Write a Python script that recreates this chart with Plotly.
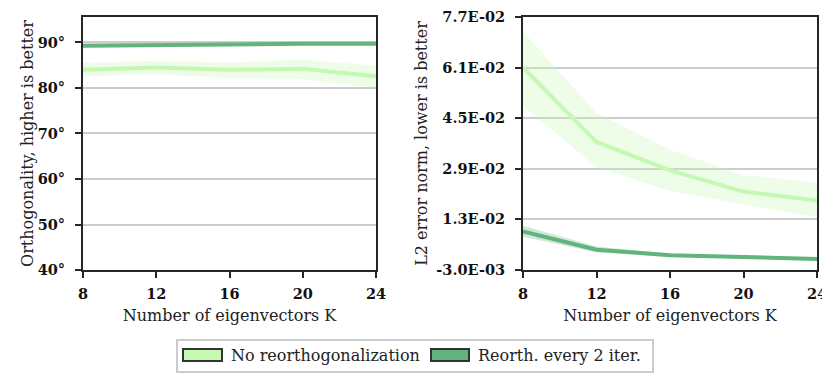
import plotly.graph_objects as go

K = [8, 12, 16, 20, 24]

# left panel: orthogonality (degrees)
ortho_none = [84.0, 84.5, 84.0, 84.2, 82.6]
ortho_none_lo = [82.6, 83.0, 82.2, 82.0, 80.0]
ortho_none_hi = [85.5, 86.0, 85.6, 86.2, 84.9]
ortho_re = [89.3, 89.5, 89.6, 89.7, 89.7]
ortho_re_lo = [88.9, 89.2, 89.4, 89.5, 89.5]
ortho_re_hi = [89.8, 89.8, 89.8, 89.9, 89.9]

# right panel: L2 error norm
err_none = [0.061, 0.0375, 0.0285, 0.0218, 0.019]
err_none_lo = [0.049, 0.0295, 0.022, 0.0177, 0.0136]
err_none_hi = [0.0723, 0.0467, 0.035, 0.027, 0.0246]
err_re = [0.0092, 0.0034, 0.0017, 0.0010, 0.0005]
err_re_lo = [0.0075, 0.0026, 0.0012, 0.0007, 0.0003]
err_re_hi = [0.0110, 0.0044, 0.0022, 0.0013, 0.0008]

ortho_ticks = [40, 50, 60, 70, 80, 90]
err_ticks = [-0.003, 0.013, 0.029, 0.045, 0.061, 0.077]

series_names = ["No reorthogonalization", "Reorth. every 2 iter."]

LIGHT = "#c5f9b2"
DARK = "#63b37f"
LIGHT_FILL = "rgba(197,249,178,0.3)"
DARK_FILL = "rgba(99,179,127,0.3)"
SERIF = "DejaVu Serif"

# page body has an 8px margin; paper coords below account for it
W, H, OFF = 830, 377, 8


def px(x):
    return (x - OFF) / W


def py(y):
    return 1 - (y - OFF) / H


fig = go.Figure()


def add_series(xa, ya, y, lo, hi, color, fill):
    fig.add_trace(go.Scatter(x=K, y=lo, mode="lines", line=dict(width=0, color=fill),
                             xaxis=xa, yaxis=ya, showlegend=False, hoverinfo="skip"))
    fig.add_trace(go.Scatter(x=K, y=hi, mode="lines", line=dict(width=0, color=fill),
                             fill="tonexty", fillcolor=fill,
                             xaxis=xa, yaxis=ya, showlegend=False, hoverinfo="skip"))
    fig.add_trace(go.Scatter(x=K, y=y, mode="lines", line=dict(width=4, color=color),
                             xaxis=xa, yaxis=ya, showlegend=False))


add_series("x", "y", ortho_re, ortho_re_lo, ortho_re_hi, DARK, DARK_FILL)
add_series("x", "y", ortho_none, ortho_none_lo, ortho_none_hi, LIGHT, LIGHT_FILL)
add_series("x2", "y2", err_re, err_re_lo, err_re_hi, DARK, DARK_FILL)
add_series("x2", "y2", err_none, err_none_lo, err_none_hi, LIGHT, LIGHT_FILL)

tickfont = dict(family=SERIF, size=14.5, color="#111111", weight="bold")
titlefont = dict(family=SERIF, size=16, color="#222222")

xcommon = dict(
    range=[8, 24], tickvals=K, ticks="outside", ticklen=6, tickwidth=2, tickcolor="#262626",
    showline=True, linewidth=2, linecolor="#262626", mirror=True, showgrid=False,
    zeroline=False, tickfont=tickfont, automargin=False, ticklabelstandoff=4,
    title=dict(text="Number of eigenvectors K", font=titlefont, standoff=8),
)
ycommon = dict(
    ticks="outside", ticklen=6, tickwidth=2, tickcolor="#262626", ticklabelstandoff=7,
    showline=True, linewidth=2, linecolor="#262626", mirror=True, automargin=False,
    showgrid=True, gridcolor="#cccccc", gridwidth=1.5, zeroline=False, tickfont=tickfont,
)

fig.update_layout(
    width=W, height=H,
    margin=dict(l=0, r=0, t=0, b=0),
    plot_bgcolor="white", paper_bgcolor="white",
    showlegend=False,
    xaxis=dict(domain=[px(83), px(376)], anchor="y", **xcommon),
    yaxis=dict(domain=[py(270), py(17)], anchor="x", range=[40, 95.6],
               tickvals=ortho_ticks, ticktext=[f"{t}°" for t in ortho_ticks],
               title=dict(text="Orthogonality, higher is better", font=titlefont, standoff=0),
               **ycommon),
    xaxis2=dict(domain=[px(523), px(817)], anchor="y2", **xcommon),
    yaxis2=dict(domain=[py(270), py(17)], anchor="x2", range=[-0.003, 0.077],
                tickvals=err_ticks, ticktext=[f"{t:.1E}" for t in err_ticks],
                title=dict(text="L2 error norm, lower is better", font=titlefont, standoff=5),
                **ycommon),
)

# legend drawn as a framed box of patches and labels
fig.add_shape(type="rect", xref="paper", yref="paper",
              x0=px(177), x1=px(653), y0=py(372), y1=py(340),
              line=dict(color="#cccccc", width=2), fillcolor="white")
for name, color, x0, x1 in [(series_names[0], LIGHT, 183, 222),
                            (series_names[1], DARK, 431, 469)]:
    fig.add_shape(type="rect", xref="paper", yref="paper",
                  x0=px(x0), x1=px(x1), y0=py(361), y1=py(349),
                  line=dict(color="#333333", width=2), fillcolor=color)
    fig.add_annotation(text=name, xref="paper", yref="paper", x=px(x1 + 7), y=py(355),
                       xanchor="left", yanchor="middle", showarrow=False,
                       font=dict(family=SERIF, size=16, color="#222222"))

fig.write_html("out.html")
